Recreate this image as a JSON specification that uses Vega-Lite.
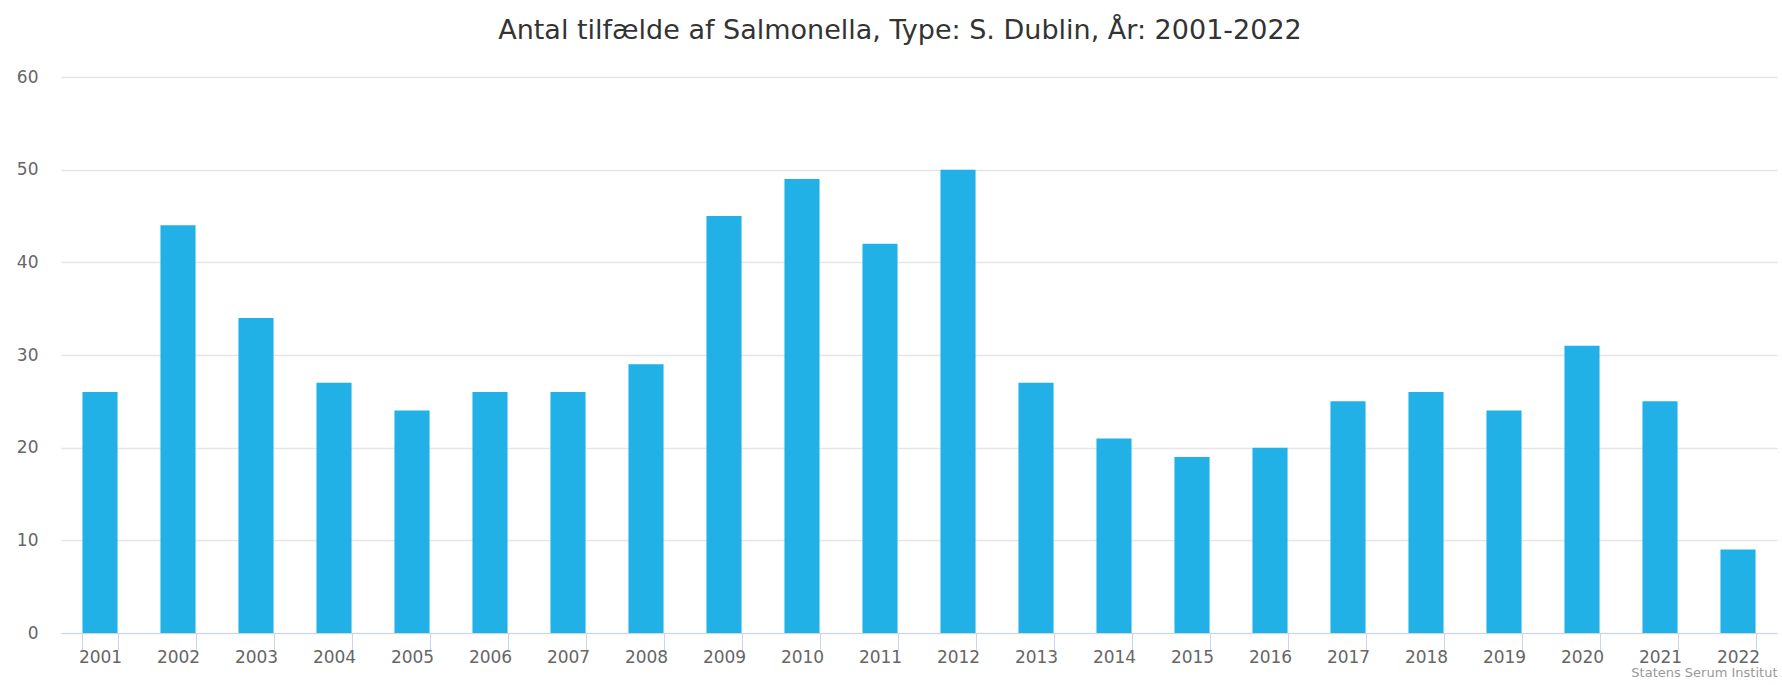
{
  "$schema": "https://vega.github.io/schema/vega-lite/v6.json",
  "width": 1716,
  "height": 556,
  "autosize": {"type": "none"},
  "padding": {"left": 61, "top": 77, "right": 5, "bottom": 52},
  "background": "white",
  "config": {
    "view": {"stroke": null},
    "font": "DejaVu Sans"
  },
  "title": {
    "text": "Antal tilfælde af Salmonella, Type: S. Dublin, År: 2001-2022",
    "fontSize": 27,
    "fontWeight": "normal",
    "color": "#333333",
    "anchor": "middle",
    "dx": -19,
    "offset": 10,
    "baseline": "middle",
    "font": "DejaVu Sans"
  },
  "data": {
    "values": [
      {"year": "2001", "count": 26},
      {"year": "2002", "count": 44},
      {"year": "2003", "count": 34},
      {"year": "2004", "count": 27},
      {"year": "2005", "count": 24},
      {"year": "2006", "count": 26},
      {"year": "2007", "count": 26},
      {"year": "2008", "count": 29},
      {"year": "2009", "count": 45},
      {"year": "2010", "count": 49},
      {"year": "2011", "count": 42},
      {"year": "2012", "count": 50},
      {"year": "2013", "count": 27},
      {"year": "2014", "count": 21},
      {"year": "2015", "count": 19},
      {"year": "2016", "count": 20},
      {"year": "2017", "count": 25},
      {"year": "2018", "count": 26},
      {"year": "2019", "count": 24},
      {"year": "2020", "count": 31},
      {"year": "2021", "count": 25},
      {"year": "2022", "count": 9}
    ]
  },
  "mark": {"type": "bar", "color": "#21b1e7"},
  "encoding": {
    "x": {
      "field": "year",
      "type": "nominal",
      "sort": null,
      "scale": {"paddingInner": 0.55, "paddingOuter": 0.275},
      "axis": {
        "title": "Statens Serum Institut",
        "titleAnchor": "end",
        "titleAlign": "right",
        "titleFontSize": 13,
        "titleFontWeight": "normal",
        "titleColor": "#999999",
        "titlePadding": 1,
        "titleFont": "DejaVu Sans",
        "labelAngle": 0,
        "labelFontSize": 17,
        "labelColor": "#666666",
        "labelFont": "DejaVu Sans",
        "labelPadding": -1,
        "tickBand": "extent",
        "tickSize": 17,
        "tickColor": "#ccd6eb",
        "domainColor": "#ccd6eb",
        "grid": false
      }
    },
    "y": {
      "field": "count",
      "type": "quantitative",
      "scale": {"domain": [0, 60]},
      "axis": {
        "title": null,
        "values": [0, 10, 20, 30, 40, 50, 60],
        "labelFontSize": 17,
        "labelColor": "#666666",
        "labelFont": "DejaVu Sans",
        "labelPadding": 23,
        "ticks": false,
        "domain": false,
        "gridColor": "#e6e6e6",
        "gridWidth": 1.5
      }
    }
  }
}
